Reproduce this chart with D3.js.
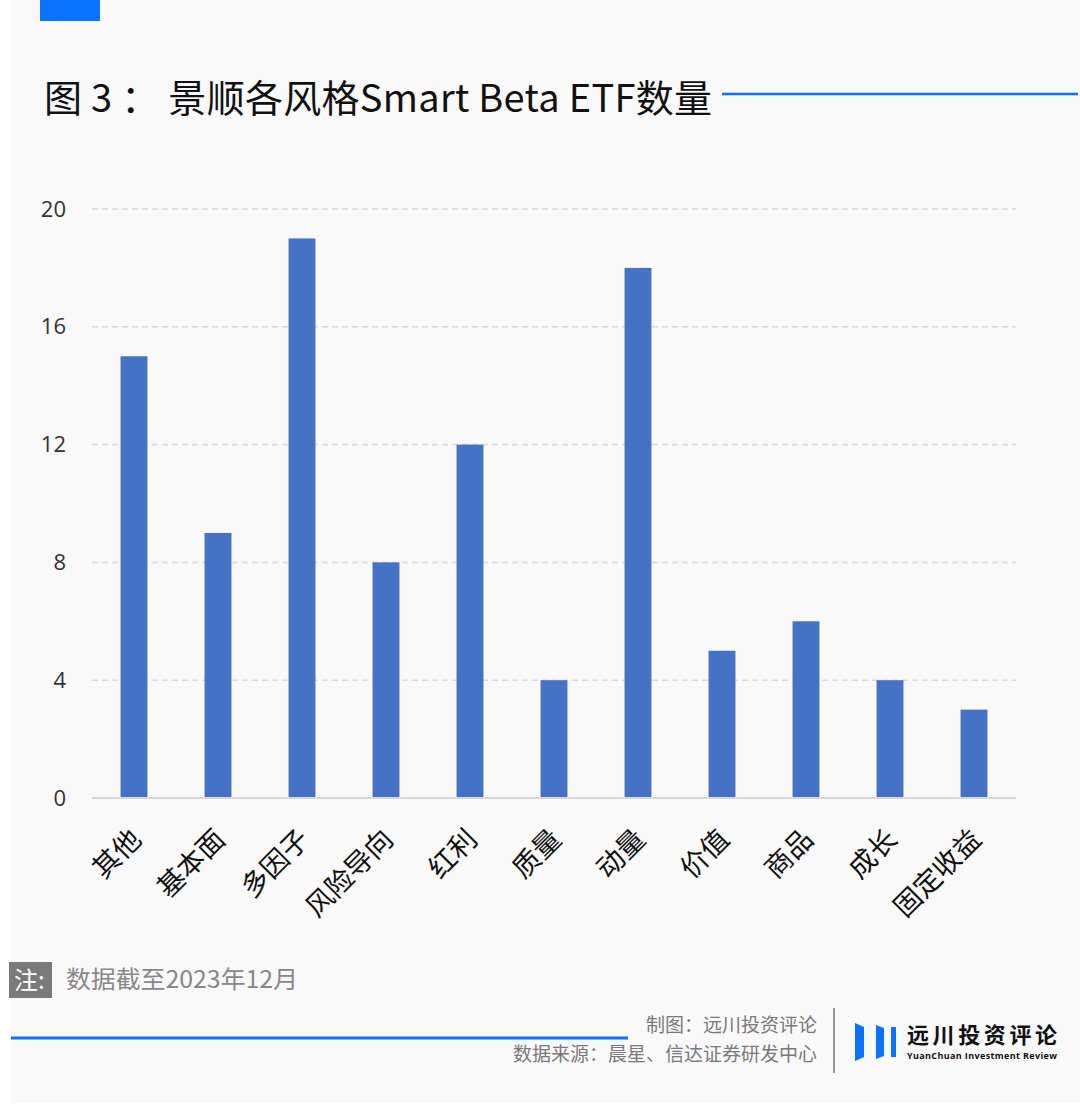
<!DOCTYPE html>
<html><head><meta charset="utf-8">
<script src="https://cdn.jsdelivr.net/npm/d3@7/dist/d3.min.js"></script>
<style>
html,body{margin:0;padding:0;background:#fff;}
svg{display:block;}
</style></head>
<body>
<svg id="chart" width="1080" height="1104"></svg>
<script>
const categories = ["其他","基本面","多因子","风险导向","红利","质量","动量","价值","商品","成长","固定收益"];
const counts = [15, 9, 19, 8, 12, 4, 18, 5, 6, 4, 3];
const yTicks = [0, 4, 8, 12, 16, 20];
const titleText = "图 3 ： 景顺各风格Smart Beta ETF数量";
const noteText = "数据截至2023年12月";
const creditLines = ["制图：远川投资评论", "数据来源：晨星、信达证券研发中心"];

const svg = d3.select("#chart");
const CJK = "'Noto Sans CJK SC','Noto Sans',sans-serif";

// panel
svg.append("rect").attr("x", 11).attr("y", 0).attr("width", 1069).attr("height", 1103).attr("fill", "#f9f9f9");
svg.append("rect").attr("x", 40).attr("y", 0).attr("width", 60).attr("height", 21).attr("fill", "#0a72ff");

// title
svg.append("text").attr("x", 44).attr("y", 112)
  .attr("font-family", CJK).attr("font-size", 38).attr("fill", "#111")
  .attr("textLength", 668).attr("lengthAdjust", "spacing").text(titleText);
svg.append("line").attr("x1", 722).attr("x2", 1078).attr("y1", 94).attr("y2", 94)
  .attr("stroke", "#0a72ff").attr("stroke-width", 2.5);

// chart
const x = d3.scaleBand().domain(categories).range([92, 1016]).paddingInner(0.68).paddingOuter(0.34);
const y = d3.scaleLinear().domain([0, 20]).range([798, 209]);

const grid = svg.append("g");
grid.selectAll("line").data(yTicks.filter(d => d > 0)).join("line")
  .attr("x1", 92).attr("x2", 1016).attr("y1", d => y(d)).attr("y2", d => y(d))
  .attr("stroke", "#d9d9d9").attr("stroke-width", 1.5).attr("stroke-dasharray", "6,4");

const yAxis = svg.append("g").attr("transform", "translate(92,0)")
  .call(d3.axisLeft(y).tickValues(yTicks).tickSize(0).tickPadding(26));
yAxis.select(".domain").remove();
yAxis.selectAll("text").attr("font-family", "'Open Sans',sans-serif").attr("font-size", 22).attr("fill", "#333");

svg.append("g").selectAll("rect").data(categories).join("rect")
  .attr("x", d => x(d)).attr("width", x.bandwidth())
  .attr("y", (d, i) => y(counts[i])).attr("height", (d, i) => y(0) - y(counts[i]))
  .attr("fill", "#4472c4");

svg.append("line").attr("x1", 92).attr("x2", 1016).attr("y1", 798).attr("y2", 798)
  .attr("stroke", "#d9d9d9").attr("stroke-width", 2);

const xAxis = svg.append("g").attr("transform", "translate(0,798)")
  .call(d3.axisBottom(x).tickSize(0).tickPadding(0));
xAxis.select(".domain").remove();
xAxis.selectAll("text")
  .attr("font-family", CJK).attr("font-size", 27.5).attr("fill", "#111")
  .attr("text-anchor", "end").attr("dy", 0).attr("y", 0)
  .attr("transform", "translate(9,43) rotate(-45)");

// note
svg.append("rect").attr("x", 9).attr("y", 962).attr("width", 43).attr("height", 36).attr("fill", "#7a7a7a");
svg.append("text").attr("x", 14).attr("y", 989).attr("font-family", CJK).attr("font-size", 24).attr("fill", "#fff").text("注:");
svg.append("text").attr("x", 66).attr("y", 988).attr("font-family", CJK).attr("font-size", 24).attr("fill", "#888")
  .attr("textLength", 232).attr("lengthAdjust", "spacingAndGlyphs").text(noteText);

// footer
svg.append("line").attr("x1", 11).attr("x2", 628).attr("y1", 1038).attr("y2", 1038)
  .attr("stroke", "#0a72ff").attr("stroke-width", 3);
svg.selectAll("text.credit").data(creditLines).join("text").attr("class", "credit")
  .attr("x", 817).attr("y", (d, i) => 1032 + i * 29).attr("text-anchor", "end")
  .attr("font-family", CJK).attr("font-size", 19).attr("fill", "#7a7a7a").text(d => d);
svg.append("line").attr("x1", 834).attr("x2", 834).attr("y1", 1008).attr("y2", 1073)
  .attr("stroke", "#555").attr("stroke-width", 1.2);

// logo
const logo = svg.append("g");
[[855, 1023, 9, 38, 4], [876, 1025, 8, 34, 3], [891, 1027, 5, 30, 0]].forEach(([x0, y0, w, h, s]) => {
  logo.append("polygon").attr("points", `${x0},${y0} ${x0 + w},${y0 + s} ${x0 + w},${y0 + h - s} ${x0},${y0 + h}`).attr("fill", "#0a72ff");
});
logo.append("text").attr("x", 907).attr("y", 1043).attr("font-family", CJK).attr("font-weight", 700)
  .attr("font-size", 22).attr("fill", "#111").attr("textLength", 150).text("远川投资评论");
logo.append("text").attr("x", 907).attr("y", 1059).attr("font-family", "'Open Sans',sans-serif").attr("font-weight", 700)
  .attr("font-size", 9).attr("fill", "#111").attr("textLength", 150).text("YuanChuan Investment Review");
</script>
</body></html>
